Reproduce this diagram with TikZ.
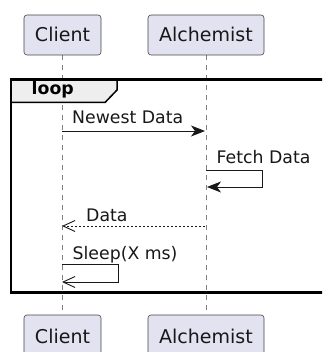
\documentclass[tikz,border=0pt]{standalone}
\usepackage{fontspec}
\setmainfont{DejaVu Sans}
\usetikzlibrary{arrows.meta}
\definecolor{partfill}{HTML}{E2E2F0}
\definecolor{partline}{HTML}{181818}
\definecolor{tabfill}{HTML}{EEEEEE}
\tikzset{
  part/.style={draw=partline!80, fill=partfill, rounded corners=3pt, line width=0.6pt},
  parttext/.style={font=\fontsize{19}{22}\selectfont, text=partline, anchor=base, inner sep=0pt},
  msgtext/.style={font=\fontsize{17.3}{20}\selectfont, text=partline, anchor=base west, inner sep=0pt},
  lifeline/.style={draw=gray, line width=0.7pt, dash pattern=on 5pt off 5pt},
  sync/.style={draw=partline, line width=0.9pt, -{Stealth[length=14pt,width=11pt,inset=4pt]}},
  openarr/.style={draw=partline, line width=0.9pt, -{Straight Barb[length=12pt,width=11pt]}},
  retarr/.style={openarr, dash pattern=on 2pt off 2pt},
}
\begin{document}
\begin{tikzpicture}[x=1pt,y=-1pt]
\useasboundingbox (0,0) rectangle (322,352);
\clip (0,0) rectangle (322,352);
\fill[white] (0,0) rectangle (322,352);
% lifelines
\coordinate (cTop) at (62,55);
\coordinate (cBot) at (62,315);
\coordinate (aTop) at (206,55);
\coordinate (aBot) at (206,315);
\draw[lifeline] (cTop) -- (cBot);
\draw[lifeline] (aTop) -- (aBot);
% participants
\draw[part] (24,15) rectangle (101,55);
\node[parttext] (c1) at (62.5,41.5) {Client};
\draw[part] (148,15) rectangle (264,55);
\node[parttext] (a1) at (206,41.5) {Alchemist};
\draw[part] (24,315) rectangle (101,360);
\node[parttext] (c2) at (62.5,343) {Client};
\draw[part] (148,315) rectangle (264,360);
\node[parttext] (a2) at (206,343) {Alchemist};
% loop frame
\draw[line width=1.5pt, fill=tabfill] (11,79.5) -- (117,79.5) -- (117,90) -- (105,102.5) -- (11,102.5);
\draw[line width=2.2pt] (340,79.5) -- (11,79.5) -- (11,292.5) -- (340,292.5);
\node[font=\bfseries\fontsize{17.3}{20}\selectfont, anchor=base west, inner sep=0pt] (lp) at (31.5,94.5) {loop};
% messages
\coordinate (m1s) at (62,131);
\coordinate (m1e) at (205,131);
\draw[sync] (m1s) -- (m1e);
\node[msgtext] (t1) at (72,124) {Newest Data};
\coordinate (m2s) at (206,170);
\coordinate (m2e) at (207,187);
\draw[sync] (m2s) -- (262,170) -- (262,187) -- (m2e);
\node[msgtext] (t2) at (216.5,164) {Fetch Data};
\coordinate (m3s) at (205,226);
\coordinate (m3e) at (62,226);
\draw[retarr] (m3s) -- (m3e);
\node[msgtext] (t3) at (86,221) {Data};
\coordinate (m4s) at (62,264.5);
\coordinate (m4e) at (62,282);
\draw[openarr] (m4s) -- (118.5,264.5) -- (118.5,282) -- (m4e);
\node[msgtext] (t4) at (72.5,259) {Sleep(X ms)};
\end{tikzpicture}
\end{document}
